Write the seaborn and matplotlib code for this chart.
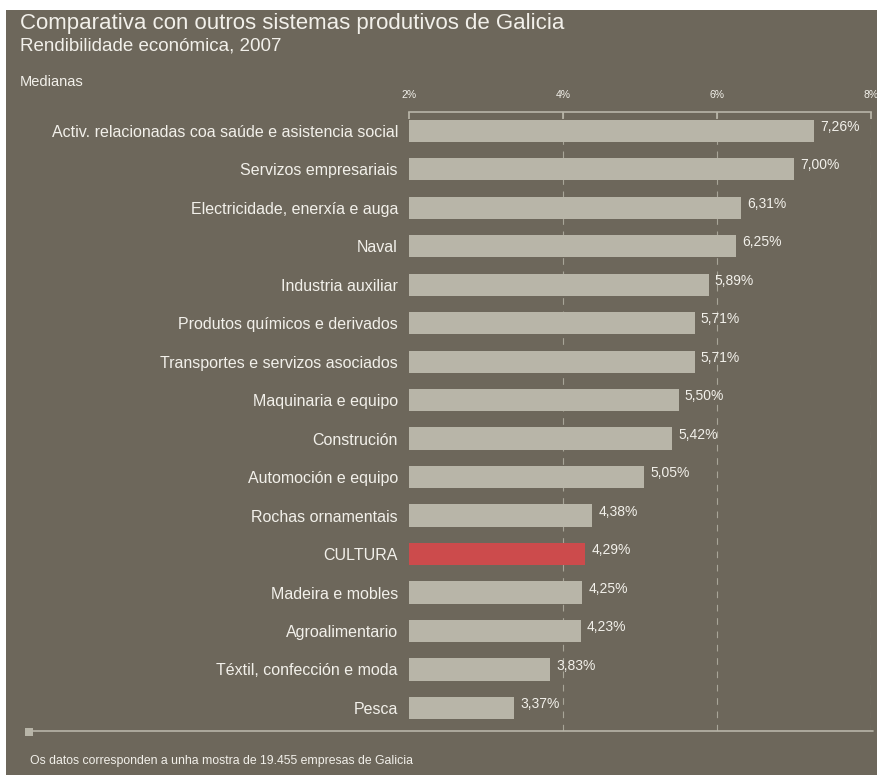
import pandas as pd
import matplotlib.pyplot as plt
import seaborn as sns
from matplotlib.patches import Rectangle
from matplotlib.lines import Line2D
from matplotlib.ticker import FuncFormatter

# Data
sectors = [
    "Activ. relacionadas coa saúde e asistencia social",
    "Servizos empresariais",
    "Electricidade, enerxía e auga",
    "Naval",
    "Industria auxiliar",
    "Produtos químicos e derivados",
    "Transportes e servizos asociados",
    "Maquinaria e equipo",
    "Construción",
    "Automoción e equipo",
    "Rochas ornamentais",
    "CULTURA",
    "Madeira e mobles",
    "Agroalimentario",
    "Téxtil, confección e moda",
    "Pesca",
]
values = [7.26, 7.00, 6.31, 6.25, 5.89, 5.71, 5.71, 5.50, 5.42, 5.05,
          4.38, 4.29, 4.25, 4.23, 3.83, 3.37]
ticks = [2, 4, 6, 8]

BG = "#6d675b"
BAR = "#b8b5a8"
RED = "#cc4b4c"
TXT = "#f2f0ea"

sns.set_theme(style="white")
plt.rcParams['font.family'] = ['Liberation Sans', 'DejaVu Sans']

data = pd.DataFrame({"sector": sectors, "value": values})
palette = {s: (RED if s == "CULTURA" else BAR) for s in sectors}

fig = plt.figure(figsize=(8.77, 7.75), dpi=100, facecolor="white")
W, H = 877, 775
fig.patches.append(Rectangle((6 / W, 0), 1, 1 - 10 / H, transform=fig.transFigure,
                             facecolor=BG, edgecolor="none", zorder=-10))

ax = fig.add_axes([409 / W, 44 / H, 462 / W, 619 / H])
ax.set_facecolor("none")
sns.barplot(data=data, x="value", y="sector", hue="sector", palette=palette,
            legend=False, width=0.58, saturation=1, linewidth=0, ax=ax)
ax.set_xlim(2, 8)
ax.set_ylim(15.6, -0.49)

# dashed gridlines
for t in ticks[1:]:
    ax.axvline(t, color=BAR, lw=0.8, ls=(0, (6, 6)), zorder=0, alpha=0.8)

for s in ["right", "bottom", "left"]:
    ax.spines[s].set_visible(False)
ax.spines["top"].set_color(BAR)
ax.spines["top"].set_linewidth(1.2)
ax.xaxis.tick_top()
ax.set_xticks(ticks)
ax.xaxis.set_major_formatter(FuncFormatter(lambda v, p: f"{v:.0f}%"))
ax.tick_params(axis="x", top=True, direction="in", length=5, color=BAR,
               labelsize=7.5, labelcolor=TXT, pad=9)
ax.tick_params(axis="y", left=False, labelsize=11.5, labelcolor=TXT, pad=2)
ax.set_xlabel("")
ax.set_ylabel("")

for i, v in enumerate(values):
    ax.text(v + 0.08, i - 0.1, f"{v:.2f}%".replace(".", ","), color=TXT,
            fontsize=10, va="center", ha="left")

# titles
fig.text(20 / W, 1 - 23 / H, "Comparativa con outros sistemas produtivos de Galicia",
         color=TXT, fontsize=16, va="center", ha="left")
fig.text(20 / W, 1 - 46 / H, "Rendibilidade económica, 2007",
         color=TXT, fontsize=13.5, va="center", ha="left")
fig.text(20 / W, 1 - 82 / H, "Medianas", color=TXT, fontsize=10.5, va="center",
         ha="left")

# bottom rule with square
fig.lines.append(Line2D([30 / W, 873 / W], [1 - 731 / H] * 2, transform=fig.transFigure,
                        color=BAR, lw=1.2))
fig.patches.append(Rectangle((25 / W, 1 - 736 / H), 8 / W, 8 / H, transform=fig.transFigure,
                             facecolor=BAR, edgecolor="none"))
fig.text(30 / W, 1 - 761 / H, "Os datos corresponden a unha mostra de 19.455 empresas de Galicia",
         color=TXT, fontsize=8.8, va="center", ha="left")

fig.savefig("out.png", dpi=100, facecolor=fig.get_facecolor())
